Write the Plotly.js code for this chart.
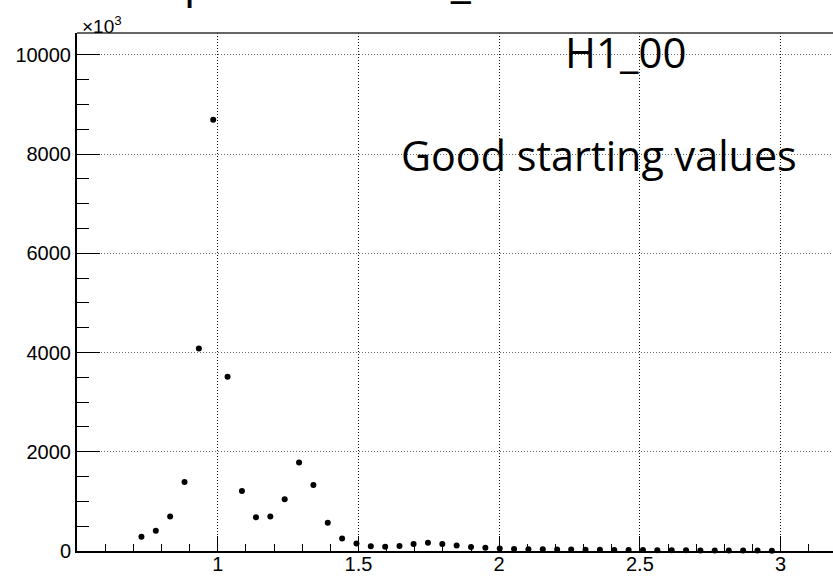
<!DOCTYPE html>
<html>
<head>
<meta charset="utf-8">
<script src="https://cdn.plot.ly/plotly-3.0.1.min.js"></script>
<style>
html, body { margin: 0; padding: 0; background: #fff; overflow: hidden; width: 833px; height: 585px; }
#chart { width: 865px; height: 585px; }
</style>
</head>
<body>
<div id="chart"></div>
<script>
// Bin centres (x) and contents (y, in units of 10^3)
const binCenters = [0.729, 0.780, 0.831, 0.882, 0.933, 0.984, 1.035, 1.086, 1.136, 1.187,
  1.238, 1.289, 1.340, 1.391, 1.442, 1.493, 1.544, 1.595, 1.646, 1.696,
  1.747, 1.798, 1.849, 1.900, 1.951, 2.002, 2.053, 2.104, 2.155, 2.206,
  2.256, 2.307, 2.358, 2.409, 2.460, 2.511, 2.562, 2.613, 2.664, 2.715,
  2.766, 2.816, 2.867, 2.918, 2.969];
const binContents = [285, 406, 696, 1389, 4079, 8694, 3514, 1207, 682, 696,
  1045, 1786, 1328, 567, 252, 151, 97, 85, 100, 140,
  168, 140, 111, 80, 63, 50, 42, 36, 36, 30,
  30, 26, 24, 22, 20, 18, 16, 15, 14, 12,
  11, 10, 9, 8, 7];
const xTickVals = [1, 1.5, 2, 2.5, 3];
const xTickText = ['1', '1.5', '2', '2.5', '3'];
const yTickVals = [0, 2000, 4000, 6000, 8000, 10000];
const yTickText = ['0', '2000', '4000', '6000', '8000', '10000'];
const titleText = 'Example fit for H1_00';
const histName = 'H1_00';
const noteText = 'Good starting values';
const yExponent = '×10<sup>3</sup>';

const tickFont = { family: 'Liberation Sans, Arial, sans-serif', size: 20, color: '#000' };
const bigFont = { family: 'Open Sans, sans-serif', size: 42, color: '#000' };

const trace = {
  type: 'scatter',
  mode: 'markers',
  x: binCenters,
  y: binContents,
  marker: { color: '#000', size: 6, symbol: 'circle' },
  cliponaxis: false,
  hoverinfo: 'skip'
};

const layout = {
  width: 865,
  height: 585,
  margin: { l: 77, r: 0, t: 33, b: 34 },
  paper_bgcolor: '#fff',
  plot_bgcolor: '#fff',
  showlegend: false,
  xaxis: {
    range: [0.5, 3.3],
    tickmode: 'array',
    tickvals: xTickVals,
    ticktext: xTickText,
    ticks: 'inside',
    ticklen: 15,
    tickwidth: 1,
    tickcolor: '#000',
    tickfont: tickFont,
    ticklabelstandoff: -6,
    showline: true,
    linewidth: 2,
    linecolor: '#000',
    showgrid: true,
    gridcolor: '#111',
    gridwidth: 1,
    griddash: '1px,2px',
    zeroline: false,
    minor: { dtick: 0.1, tick0: 0.5, ticks: 'inside', ticklen: 7, tickwidth: 1, tickcolor: '#000', showgrid: false }
  },
  yaxis: {
    range: [0, 10440],
    tickmode: 'array',
    tickvals: yTickVals,
    ticktext: yTickText,
    ticks: 'inside',
    ticklen: 23,
    tickwidth: 1,
    tickcolor: '#000',
    tickfont: tickFont,
    showline: true,
    linewidth: 2,
    linecolor: '#000',
    showgrid: true,
    gridcolor: '#666',
    gridwidth: 1,
    griddash: '1px,2px',
    zeroline: false,
    minor: { dtick: 500, tick0: 0, ticks: 'inside', ticklen: 12, tickwidth: 1, tickcolor: '#000', showgrid: false }
  },
  shapes: [
    { type: 'line', xref: 'paper', yref: 'paper', x0: 0, x1: 1, y0: 1, y1: 1, line: { color: '#333', width: 1.5 } }
  ],
  annotations: [
    { xref: 'paper', yref: 'paper', x: 0.6168, y: 0.9652, xanchor: 'left', yanchor: 'middle', text: histName, font: bigFont, showarrow: false },
    { xref: 'paper', yref: 'paper', x: 0.4086, y: 0.7645, xanchor: 'left', yanchor: 'middle', text: noteText, font: { family: 'Open Sans, sans-serif', size: 41.3, color: '#000' }, showarrow: false },
    { xref: 'paper', yref: 'paper', x: -0.0165, y: 1.1042, xanchor: 'left', yanchor: 'middle', text: titleText, font: { family: 'Open Sans, sans-serif', size: 46, color: '#000' }, showarrow: false },
    { xref: 'paper', yref: 'paper', x: 0.0038, y: 1.0155, xanchor: 'left', yanchor: 'middle', text: yExponent, font: { family: 'Liberation Sans, Arial, sans-serif', size: 19, color: '#000' }, showarrow: false }
  ]
};

Plotly.newPlot('chart', [trace], layout, { displayModeBar: false, staticPlot: true });
</script>
</body>
</html>
